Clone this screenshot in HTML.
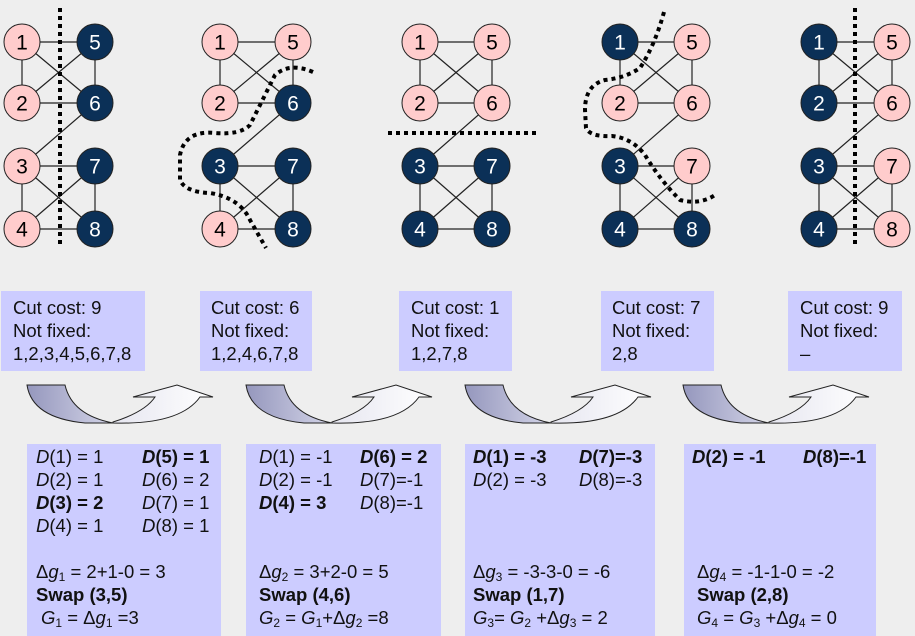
<!DOCTYPE html>
<html><head><meta charset="utf-8"><style>
body{margin:0;background:#eeeeee;}
svg{display:block;font-family:"Liberation Sans",Arial,sans-serif;}
.bx{fill:#ccccff;}
.t{font-size:18.5px;fill:#111;}
</style></head><body>
<svg id="s" width="915" height="636" viewBox="0 0 915 636">
<defs>
<linearGradient id="gd" x1="0" x2="1" y1="0" y2="0"><stop offset="0" stop-color="#9597bd"/><stop offset="1" stop-color="#d4d5e8"/></linearGradient>
<linearGradient id="gw" x1="0" x2="1" y1="0" y2="0"><stop offset="0" stop-color="#e6e6f0"/><stop offset="1" stop-color="#ffffff"/></linearGradient>
</defs>
<g id="graphs"></g>
<g id="cuts" fill="none" stroke="#000" stroke-width="4" stroke-dasharray="4,4">
<line x1="60" y1="8" x2="60" y2="248"/>
<path d="M313,72 Q290,62 275,75 L250,125 Q240,135 215,133 Q185,130 180,155 L180,180 Q185,192 210,193 Q240,198 250,220 L266,248"/>
<line x1="388" y1="133" x2="536" y2="133"/>
<path d="M664,12 Q655,45 640,68 Q625,78 605,80 Q585,85 585,110 L586,128 Q590,137 612,136 Q632,138 645,155 Q660,180 680,200 Q700,205 715,195"/>
<line x1="855" y1="8" x2="855" y2="248"/>
</g>
<g id="top">
<g><rect class="bx" x="1" y="291" width="144" height="80"/><text class="t" x="13" y="314">Cut cost: 9</text><text class="t" x="13" y="337">Not fixed:</text><text class="t" x="13" y="360">1,2,3,4,5,6,7,8</text></g>
<g><rect class="bx" x="200" y="291" width="112" height="80"/><text class="t" x="211" y="314">Cut cost: 6</text><text class="t" x="211" y="337">Not fixed:</text><text class="t" x="211" y="360">1,2,4,6,7,8</text></g>
<g><rect class="bx" x="399" y="291" width="113" height="80"/><text class="t" x="411" y="314">Cut cost: 1</text><text class="t" x="411" y="337">Not fixed:</text><text class="t" x="411" y="360">1,2,7,8</text></g>
<g><rect class="bx" x="601" y="291" width="113" height="80"/><text class="t" x="612" y="314">Cut cost: 7</text><text class="t" x="612" y="337">Not fixed:</text><text class="t" x="612" y="360">2,8</text></g>
<g><rect class="bx" x="788" y="291" width="114" height="80"/><text class="t" x="800" y="314">Cut cost: 9</text><text class="t" x="800" y="337">Not fixed:</text><text class="t" x="800" y="360">–</text></g>
</g>
<g id="arrows"></g>
<g id="bottom" class="t">
<g><rect class="bx" x="27" y="444" width="194" height="192"/>
<text x="36" y="463"><tspan font-style="italic">D</tspan>(1) = 1</text><text x="142" y="463" font-weight="bold"><tspan font-style="italic">D</tspan>(5) = 1</text>
<text x="36" y="486"><tspan font-style="italic">D</tspan>(2) = 1</text><text x="142" y="486"><tspan font-style="italic">D</tspan>(6) = 2</text>
<text x="36" y="509" font-weight="bold"><tspan font-style="italic">D</tspan>(3) = 2</text><text x="142" y="509"><tspan font-style="italic">D</tspan>(7) = 1</text>
<text x="36" y="532"><tspan font-style="italic">D</tspan>(4) = 1</text><text x="142" y="532"><tspan font-style="italic">D</tspan>(8) = 1</text>
<text x="36" y="578">Δ<tspan font-style="italic">g</tspan><tspan font-size="12" dy="3">1</tspan><tspan dy="-3"> = 2+1-0 = 3</tspan></text>
<text x="36" y="601" font-weight="bold">Swap (3,5)</text>
<text x="41" y="624"><tspan font-style="italic">G</tspan><tspan font-size="12" dy="3">1</tspan><tspan dy="-3"> = Δ</tspan><tspan font-style="italic">g</tspan><tspan font-size="12" dy="3">1</tspan><tspan dy="-3"> =3</tspan></text></g>
<g><rect class="bx" x="246" y="444" width="195" height="192"/>
<text x="259" y="463"><tspan font-style="italic">D</tspan>(1) = -1</text><text x="360" y="463" font-weight="bold"><tspan font-style="italic">D</tspan>(6) = 2</text>
<text x="259" y="486"><tspan font-style="italic">D</tspan>(2) = -1</text><text x="360" y="486"><tspan font-style="italic">D</tspan>(7)=-1</text>
<text x="259" y="509" font-weight="bold"><tspan font-style="italic">D</tspan>(4) = 3</text><text x="360" y="509"><tspan font-style="italic">D</tspan>(8)=-1</text>
<text x="259" y="578">Δ<tspan font-style="italic">g</tspan><tspan font-size="12" dy="3">2</tspan><tspan dy="-3"> = 3+2-0 = 5</tspan></text>
<text x="259" y="601" font-weight="bold">Swap (4,6)</text>
<text x="259" y="624"><tspan font-style="italic">G</tspan><tspan font-size="12" dy="3">2</tspan><tspan dy="-3"> = </tspan><tspan font-style="italic">G</tspan><tspan font-size="12" dy="3">1</tspan><tspan dy="-3">+Δ</tspan><tspan font-style="italic">g</tspan><tspan font-size="12" dy="3">2</tspan><tspan dy="-3"> =8</tspan></text></g>
<g><rect class="bx" x="465" y="444" width="190" height="192"/>
<text x="473" y="463" font-weight="bold"><tspan font-style="italic">D</tspan>(1) = -3</text><text x="579" y="463" font-weight="bold"><tspan font-style="italic">D</tspan>(7)=-3</text>
<text x="473" y="486"><tspan font-style="italic">D</tspan>(2) = -3</text><text x="579" y="486"><tspan font-style="italic">D</tspan>(8)=-3</text>
<text x="473" y="578">Δ<tspan font-style="italic">g</tspan><tspan font-size="12" dy="3">3</tspan><tspan dy="-3"> = -3-3-0 = -6</tspan></text>
<text x="473" y="601" font-weight="bold">Swap (1,7)</text>
<text x="473" y="624"><tspan font-style="italic">G</tspan><tspan font-size="12" dy="3">3</tspan><tspan dy="-3">= </tspan><tspan font-style="italic">G</tspan><tspan font-size="12" dy="3">2</tspan><tspan dy="-3"> +Δ</tspan><tspan font-style="italic">g</tspan><tspan font-size="12" dy="3">3</tspan><tspan dy="-3"> = 2</tspan></text></g>
<g><rect class="bx" x="684" y="444" width="192" height="192"/>
<text x="692" y="463" font-weight="bold"><tspan font-style="italic">D</tspan>(2) = -1</text><text x="803" y="463" font-weight="bold"><tspan font-style="italic">D</tspan>(8)=-1</text>
<text x="697" y="578">Δ<tspan font-style="italic">g</tspan><tspan font-size="12" dy="3">4</tspan><tspan dy="-3"> = -1-1-0 = -2</tspan></text>
<text x="697" y="601" font-weight="bold">Swap (2,8)</text>
<text x="697" y="624"><tspan font-style="italic">G</tspan><tspan font-size="12" dy="3">4</tspan><tspan dy="-3"> = </tspan><tspan font-style="italic">G</tspan><tspan font-size="12" dy="3">3</tspan><tspan dy="-3"> +Δ</tspan><tspan font-style="italic">g</tspan><tspan font-size="12" dy="3">4</tspan><tspan dy="-3"> = 0</tspan></text></g>
</g>
</svg>
<script>
const graphLeft=[22,220,420,620,819];
const graphRight=[95,293,492,692,892];
const rowY=[42,103,166,229];
const darkSets=[[5,6,7,8],[3,6,7,8],[3,4,7,8],[1,3,4,8],[1,2,3,4]];
const edges=[[1,5],[1,2],[5,6],[2,6],[1,6],[2,5],[6,3],[3,7],[3,4],[7,8],[4,8],[3,8],[4,7]];
const arrowX=[27,246,465,683];
const NS='http://www.w3.org/2000/svg';
const G=document.getElementById('graphs');
function pos(i,n){const left=n<=4;const r=left?n-1:n-5;return [left?graphLeft[i]:graphRight[i],rowY[r]];}
graphLeft.forEach((_,i)=>{
 const g=document.createElementNS(NS,'g');
 
 
 edges.forEach(e=>{const a=pos(i,e[0]),b=pos(i,e[1]);const l=document.createElementNS(NS,'line');
  l.setAttribute('x1',a[0]);l.setAttribute('y1',a[1]);l.setAttribute('x2',b[0]);l.setAttribute('y2',b[1]);
  l.setAttribute('stroke','#222');l.setAttribute('stroke-width','1.2');
  
  
  g.appendChild(l);});
 for(let n=1;n<=8;n++){const p=pos(i,n);const dark=darkSets[i].includes(n);
  const c=document.createElementNS(NS,'circle');c.setAttribute('cx',p[0]);c.setAttribute('cy',p[1]);c.setAttribute('r',18);
  c.setAttribute('fill',dark?'#0b3057':'#ffcccc');c.setAttribute('stroke','#222');c.setAttribute('stroke-width','1');
  
  
  g.appendChild(c);
  const t=document.createElementNS(NS,'text');t.setAttribute('x',p[0]);t.setAttribute('y',p[1]+7.5);t.setAttribute('text-anchor','middle');
  t.setAttribute('font-size','21');t.setAttribute('fill',dark?'#fff':'#000');t.textContent=n;
  
  
  g.appendChild(t);}
 G.appendChild(g);
});
const A=document.getElementById('arrows');
arrowX.forEach((x,i)=>{
 const g=document.createElementNS(NS,'g');g.setAttribute('transform','translate('+(x-27)+',0)');
 
 
 const d=document.createElementNS(NS,'path');
 d.setAttribute('d','M27,385 Q32,418 85,423 L113,423 Q72,415 65,385 Z');
 d.setAttribute('fill','url(#gd)');d.setAttribute('stroke','#222');d.setAttribute('stroke-width','1');
 g.appendChild(d);
 const w=document.createElementNS(NS,'path');
 w.setAttribute('d','M113,422 Q145,412 155,397 L133,397 L177,385 L213,397 L200,397 Q180,425 113,423 Z');
 w.setAttribute('fill','url(#gw)');w.setAttribute('stroke','#222');w.setAttribute('stroke-width','1');
 g.appendChild(w);
 A.appendChild(g);
});
</script>
</body></html>
